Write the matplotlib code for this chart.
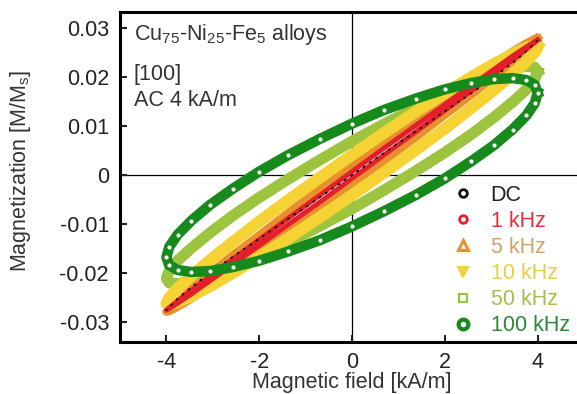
import numpy as np
import matplotlib
matplotlib.use("Agg")
import matplotlib.pyplot as plt

plt.rcParams['font.family'] = ['Liberation Sans', 'DejaVu Sans']
plt.rcParams['mathtext.default'] = 'regular'
plt.rcParams['axes.unicode_minus'] = False

# field sweep (kA/m), one full AC cycle
field = [4.00, 3.94, 3.76, 3.46, 3.06, 2.57, 2.00, 1.37, 0.69, 0.00, -0.69, -1.37,
         -2.00, -2.57, -3.06, -3.46, -3.76, -3.94, -4.00, -3.94, -3.76, -3.46, -3.06, -2.57,
         -2.00, -1.37, -0.69, 0.00, 0.69, 1.37, 2.00, 2.57, 3.06, 3.46, 3.76, 3.94]

# magnetization M/Ms for each frequency
m_dc = [0.0276, 0.0270, 0.0253, 0.0229, 0.0200, 0.0167, 0.0130, 0.0089, 0.0045, 0.0000, -0.0045, -0.0089,
        -0.0130, -0.0167, -0.0200, -0.0229, -0.0253, -0.0270, -0.0276, -0.0270, -0.0253, -0.0229, -0.0200, -0.0167,
        -0.0130, -0.0089, -0.0045, 0.0000, 0.0045, 0.0089, 0.0130, 0.0167, 0.0200, 0.0229, 0.0253, 0.0270]
m_1k = [0.0276, 0.0273, 0.0262, 0.0243, 0.0216, 0.0183, 0.0144, 0.0101, 0.0055, 0.0007, -0.0041, -0.0088,
        -0.0132, -0.0172, -0.0207, -0.0235, -0.0257, -0.0271, -0.0276, -0.0273, -0.0262, -0.0243, -0.0216, -0.0183,
        -0.0144, -0.0101, -0.0055, -0.0007, 0.0041, 0.0088, 0.0132, 0.0172, 0.0207, 0.0235, 0.0257, 0.0271]
m_5k = [0.0279, 0.0278, 0.0269, 0.0252, 0.0226, 0.0194, 0.0157, 0.0114, 0.0068, 0.0020, -0.0029, -0.0077,
        -0.0123, -0.0164, -0.0201, -0.0232, -0.0256, -0.0272, -0.0279, -0.0278, -0.0269, -0.0252, -0.0226, -0.0194,
        -0.0157, -0.0114, -0.0068, -0.0020, 0.0029, 0.0077, 0.0123, 0.0164, 0.0201, 0.0232, 0.0256, 0.0272]
m_10k = [0.0262, 0.0265, 0.0260, 0.0247, 0.0227, 0.0200, 0.0167, 0.0129, 0.0086, 0.0041, -0.0005, -0.0051,
         -0.0095, -0.0137, -0.0174, -0.0206, -0.0232, -0.0251, -0.0262, -0.0265, -0.0260, -0.0247, -0.0227, -0.0200,
         -0.0167, -0.0129, -0.0086, -0.0041, 0.0005, 0.0051, 0.0095, 0.0137, 0.0174, 0.0206, 0.0232, 0.0251]
m_50k = [0.0211, 0.0220, 0.0222, 0.0217, 0.0206, 0.0188, 0.0165, 0.0137, 0.0104, 0.0069, 0.0031, -0.0008,
         -0.0046, -0.0083, -0.0118, -0.0149, -0.0175, -0.0196, -0.0211, -0.0220, -0.0222, -0.0217, -0.0206, -0.0188,
         -0.0165, -0.0137, -0.0104, -0.0069, -0.0031, 0.0008, 0.0046, 0.0083, 0.0118, 0.0149, 0.0175, 0.0196]
m_100k = [0.0168, 0.0184, 0.0194, 0.0198, 0.0196, 0.0188, 0.0175, 0.0156, 0.0133, 0.0105, 0.0074, 0.0041,
          0.0007, -0.0028, -0.0061, -0.0093, -0.0122, -0.0147, -0.0168, -0.0184, -0.0194, -0.0198, -0.0196, -0.0188,
          -0.0175, -0.0156, -0.0133, -0.0105, -0.0074, -0.0041, -0.0007, 0.0028, 0.0061, 0.0093, 0.0122, 0.0147]

labels = ['DC', '1 kHz', '5 kHz', '10 kHz', '50 kHz', '100 kHz']
xticks = [-4, -2, 0, 2, 4]
xticklabels = ['-4', '-2', '0', '2', '4']
yticks = [0.03, 0.02, 0.01, 0.0, -0.01, -0.02, -0.03]
yticklabels = ['0.03', '0.02', '0.01', '0', '-0.01', '-0.02', '-0.03']

c_dc = '#111111'
c_1k = '#e41e2b'
c_5k = '#e8902e'
c_10k = '#f6d335'
c_50k = '#9cc43e'
c_100k = '#178a1c'
text_colors = ['#222222', '#e0303c', '#d9a065', '#e6cf45', '#a3c04c', '#2a8a35']

fig = plt.figure(figsize=(5.77, 3.94), dpi=100)
ax = fig.add_axes([120 / 577, 52 / 394, 464 / 577, 330 / 394])

def closed(v):
    return np.append(v, v[0])

h = closed(field)
# bands (drawn as thick lines through the measured points)
ax.plot(h, closed(m_50k), color=c_50k, lw=8, solid_joinstyle='round', zorder=2)
ax.plot(h, closed(m_5k), color=c_5k, lw=6, solid_joinstyle='round', zorder=2)
ax.plot(h, closed(m_10k), color=c_10k, lw=8.5, solid_joinstyle='round', zorder=2)
ax.plot(h, closed(m_1k), color=c_1k, lw=3.5, solid_joinstyle='round', zorder=2)
ax.plot(h, closed(m_dc), color=c_dc, lw=1, ls=(0, (1.5, 4)), zorder=2)
ax.plot(h, closed(m_100k), color=c_100k, lw=7.5, solid_joinstyle='round', zorder=2)
ax.plot(field, m_100k, ls='none', marker='o', ms=3, mfc='white', mec='none', zorder=3)

# legend handles
ax.plot([], [], ls='none', marker='o', ms=5.5, mfc='none', mec=c_dc, mew=2, label=labels[0])
ax.plot([], [], ls='none', marker='o', ms=5.5, mfc='none', mec=c_1k, mew=2, label=labels[1])
ax.plot([], [], ls='none', marker='^', ms=7, mfc='none', mec=c_5k, mew=2.2, label=labels[2])
ax.plot([], [], ls='none', marker='v', ms=7.5, mfc=c_10k, mec=c_10k, mew=1.5, label=labels[3])
ax.plot([], [], ls='none', marker='s', ms=5.5, mfc='none', mec=c_50k, mew=1.6, label=labels[4])
ax.plot([], [], ls='none', marker='o', ms=7, mfc='white', mec=c_100k, mew=3, label=labels[5])

leg = ax.legend(loc='upper left', bbox_to_anchor=(0.703, 0.503), frameon=False,
                fontsize=15.5, handlelength=0.8, handletextpad=0.86, labelspacing=0.24,
                borderaxespad=0, borderpad=0.4)
for t, c in zip(leg.get_texts(), text_colors):
    t.set_color(c)

ax.axhline(0, color='black', lw=0.9, zorder=1)
ax.axvline(0, color='black', lw=0.9, zorder=1)

ax.set_xlim(-5, 5)
ax.set_ylim(-0.0341, 0.0333)
ax.set_xticks(xticks)
ax.set_xticklabels(xticklabels)
ax.set_yticks(yticks)
ax.set_yticklabels(yticklabels)
ax.tick_params(direction='in', length=5, width=1.5, labelsize=15.5, colors='#222222')
ax.tick_params(axis='y', pad=8)
ax.tick_params(axis='x', pad=7)
for s in ax.spines.values():
    s.set_linewidth(2.2)

ax.text(0.030, 0.915, r'Cu$_{75}$-Ni$_{25}$-Fe$_{5}$ alloys', transform=ax.transAxes,
        fontsize=15.5, color='#333333', va='baseline')
ax.text(0.030, 0.794, '[100]', transform=ax.transAxes, fontsize=15.5, color='#333333', va='baseline')
ax.text(0.030, 0.715, 'AC 4 kA/m', transform=ax.transAxes, fontsize=15.5, color='#333333', va='baseline')

fig.text(352 / 577, 1 - 393 / 394, 'Magnetic field [kA/m]', ha='center', va='bottom',
         fontsize=15.5, color='#333333')
fig.text(21 / 577, 1 - 171 / 394, r'Magnetization [M/M$_s$]', ha='center', va='center',
         rotation=90, fontsize=15.5, color='#333333')

fig.savefig('out.png', dpi=100)
